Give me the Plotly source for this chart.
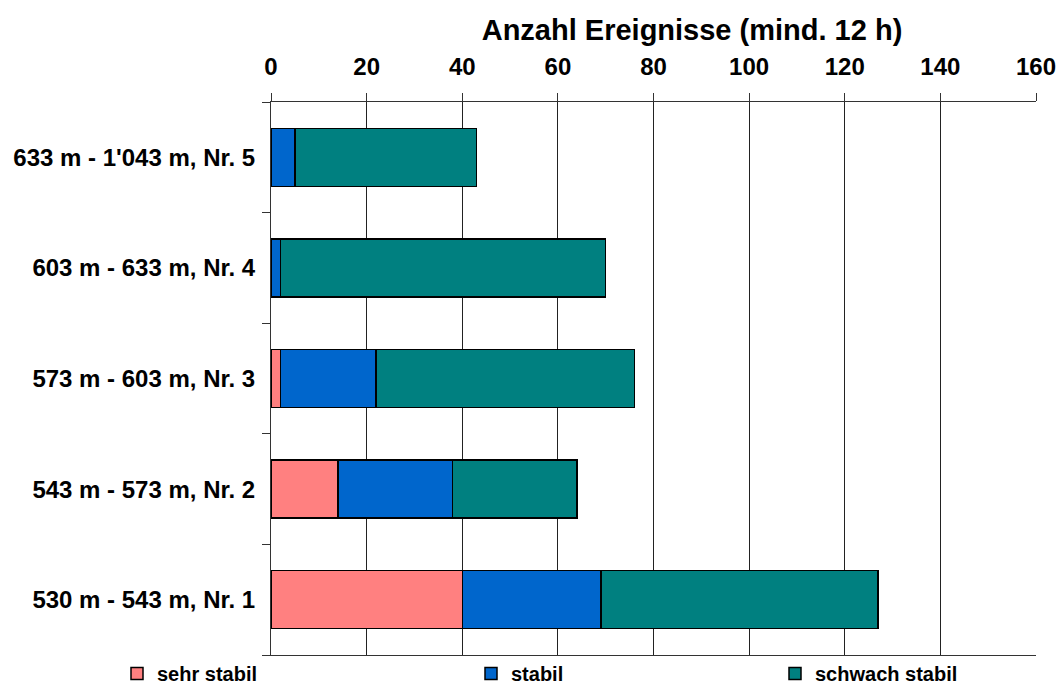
import plotly.graph_objects as go

categories = ["530 m - 543 m, Nr. 1", "543 m - 573 m, Nr. 2", "573 m - 603 m, Nr. 3",
              "603 m - 633 m, Nr. 4", "633 m - 1'043 m, Nr. 5"]
sehr_stabil = [40, 14, 2, 0, 0]
stabil = [29, 24, 20, 2, 5]
schwach_stabil = [58, 26, 54, 68, 38]
series_names = ["sehr stabil", "stabil", "schwach stabil"]
colors = ["#FF8080", "#0066CC", "#008080"]
x_ticks = [0, 20, 40, 60, 80, 100, 120, 140, 160]

FONT = "Liberation Sans, Arial, sans-serif"

fig = go.Figure()
legends = ["legend", "legend2", "legend3"]
for name, vals, col, lg in zip(series_names, [sehr_stabil, stabil, schwach_stabil], colors, legends):
    fig.add_trace(go.Bar(
        y=categories, x=vals, name=name, orientation="h",
        marker=dict(color=col, line=dict(color="#000000", width=1.5)),
        width=0.525, legend=lg, showlegend=True,
    ))

legend_common = dict(
    orientation="h", xref="container", yref="container",
    xanchor="left", yanchor="bottom", bgcolor="rgba(0,0,0,0)",
    font=dict(family=FONT, size=20, color="#000", weight="bold"),
    itemwidth=30, tracegroupgap=0, borderwidth=0, y=-0.012,
)
fig.update_layout(
    barmode="stack",
    width=1063, height=693,
    margin=dict(l=271, r=27, t=102, b=38, autoexpand=False),
    paper_bgcolor="white", plot_bgcolor="white",
    font=dict(family=FONT, color="#000"),
    title=dict(text="Anzahl Ereignisse (mind. 12 h)", x=692/1063, xanchor="center",
               xref="container", yref="container", y=1 - 30/693, yanchor="middle",
               font=dict(family=FONT, size=29, color="#000", weight="bold")),
    legend=dict(x=117/1063, **legend_common),
    legend2=dict(x=471/1063, **legend_common),
    legend3=dict(x=775/1063, **legend_common),
    xaxis=dict(
        side="top", range=[0, 160], tickvals=x_ticks,
        showgrid=True, gridcolor="#222", gridwidth=1,
        showline=True, linecolor="#333", linewidth=1, mirror=True,
        ticks="outside", ticklen=8, tickcolor="#333", ticklabelstandoff=8,
        tickfont=dict(family=FONT, size=24, color="#000", weight="bold"),
        zeroline=False, automargin=False,
    ),
    yaxis=dict(
        type="category", categoryorder="array", categoryarray=categories,
        range=[-0.5, 4.5], showline=True, linecolor="#333", linewidth=1,
        ticks="outside", ticklen=8, tickcolor="#333", tickson="boundaries",
        tickfont=dict(family=FONT, size=24, color="#000", weight="bold"),
        showgrid=False, ticklabelstandoff=10, automargin=False,
    ),
)

fig.write_html("out.html", config={"displayModeBar": False},
               post_script="document.body.style.margin='0';")
